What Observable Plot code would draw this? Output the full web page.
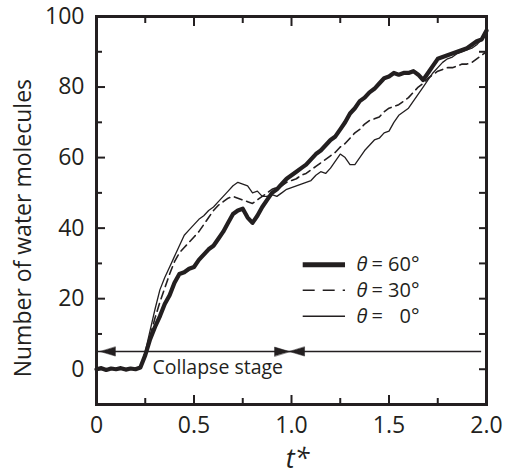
<!DOCTYPE html>
<html><head><meta charset="utf-8">
<script src="https://cdn.jsdelivr.net/npm/d3@7"></script>
<script src="https://cdn.jsdelivr.net/npm/@observablehq/plot@0.6"></script>
<style>body{margin:0;background:#fff}</style>
</head><body><div id="chart"></div>
<script>
// reduced time t*
const tStar = [0,0.025,0.05,0.075,0.1,0.125,0.15,0.175,0.2,0.225,0.25,0.275,0.3,0.325,0.35,0.375,0.4,0.425,0.45,0.475,
0.5,0.525,0.55,0.575,0.6,0.625,0.65,0.675,0.7,0.725,0.75,0.775,0.8,0.825,0.85,0.875,0.9,0.925,0.95,0.975,
1.0,1.025,1.05,1.075,1.1,1.125,1.15,1.175,1.2,1.225,1.25,1.275,1.3,1.325,1.35,1.375,1.4,1.425,1.45,1.475,
1.5,1.525,1.55,1.575,1.6,1.625,1.65,1.675,1.7,1.725,1.75,1.775,1.8,1.825,1.85,1.875,1.9,1.925,1.95,1.975,2.0];
// theta = 60 deg (thick)
const water60 = [0,0.3,-0.2,0.2,0,0.3,-0.1,0.2,0,0.5,4,8.5,12,15,18.5,21,24.5,27,27.5,28.5,
29,31,32.5,34,35,37,39,41.5,44,45,45.5,43,41.5,43.5,46,48,50,51,52.5,54,
55,56,57,58,59.5,61,62,63.5,65,66,68,70,72.5,74,76,77,78.5,79.5,81,82.5,
83,84,83.5,84,84,84.5,83.5,82,84,86,88,88.5,89,89.5,90,90.5,91,92,93,93.5,96];
// theta = 30 deg (dashed)
const water30 = [0,0.2,0,0.2,-0.1,0.2,0,0.2,0,0.3,4,9.5,14.5,19,23,27,30.5,33,34.5,36,
37.5,39,41,43,45,46.5,47.5,48.5,49,48.5,48,47.5,47,48,49,50,51,51.5,52,53,
53.5,54,55,55.5,56.5,57.5,58.5,59.5,60.5,61.5,63,64,65.5,67,68,69.5,70.5,71,71.5,73,
74,74.5,75,76,77,78.5,80,81,82.5,83.5,84.5,85,85.5,85.5,86,86.5,86.5,87,88,89,90];
// theta = 0 deg (thin)
const water0 = [0,0.2,0,0.2,0,0.2,0,0.2,0,0.5,5,11,17,22.5,26,29,32,35,38,39.5,
41,42.5,43.5,45,46,47.5,49,50.5,52,53,52.5,52,50,50.5,49,49,49.5,49,50,51,
51.5,52,52.5,53,53.5,55,56,55.5,57,59,61,60,58,58,60,62,63.5,65,65.5,67,
67.5,70,72,73,74,76,78,80,82,84,85.5,87,88,88.5,89.5,90,90.5,91,92,93.5,95];

const xMajor = [0, 0.5, 1.0, 1.5, 2.0];
const xMinor = [0.25, 0.75, 1.25, 1.75];
const yMajor = [0, 20, 40, 60, 80, 100];
const yMinor = [10, 30, 50, 70, 90];
const yRight = [0, 10, 20, 30, 40, 50, 60, 70, 80, 90];
const legendValues = ["60", "30", "\u20070"];
const collapseBounds = [0.02, 0.99];
const collapseLevel = 5;

const ink = "#231f20";
const font = "'Open Sans', 'DejaVu Sans', sans-serif";
const rows = (arr) => tStar.map((t, i) => ({t, n: arr[i]}));
const head = {draw(ctx, l, r) { ctx.moveTo(0, -l); ctx.lineTo(-r, 0); ctx.lineTo(r, 0); ctx.closePath(); }};
const heads = [
  {x: collapseBounds[0], y: collapseLevel, rot: -90},
  {x: collapseBounds[1], y: collapseLevel, rot: 90},
  {x: collapseBounds[1], y: collapseLevel, rot: -90}
];
const tickOpts = {fill: "none", label: null, stroke: ink, strokeWidth: 2};
const fmtX = d => d === 0 ? "0" : d.toFixed(1);

const legendY = [29.6, 22.4, 15.0];

const chart = Plot.plot({
  width: 512, height: 474,
  marginLeft: 96, marginRight: 26, marginTop: 16, marginBottom: 70,
  x: {domain: [0, 2]},
  y: {domain: [-10, 100]},
  style: {fontFamily: font, color: ink, background: "#fff"},
  marks: [
    Plot.line(rows(water0), {x: "t", y: "n", stroke: ink, strokeWidth: 1.3}),
    Plot.line(rows(water30), {x: "t", y: "n", stroke: ink, strokeWidth: 1.6, strokeDasharray: "8,5"}),
    Plot.line(rows(water60), {x: "t", y: "n", stroke: ink, strokeWidth: 4.2, strokeLinejoin: "round"}),
    Plot.ruleY([collapseLevel], {x1: 0, x2: 1.975, stroke: ink, strokeWidth: 1.5}),
    Plot.vector(heads, {x: "x", y: "y", rotate: "rot", length: 15, r: 4.5, anchor: "end", shape: head, fill: ink, stroke: ink, strokeWidth: 0.5}),
    Plot.text(["Collapse stage"], {x: 0.287, y: 0.3, text: d => d, textAnchor: "start", fontSize: 19.5, fill: ink}),
    // legend
    Plot.ruleY([legendY[0]], {x1: 1.06, x2: 1.277, stroke: ink, strokeWidth: 5}),
    Plot.ruleY([legendY[1]], {x1: 1.06, x2: 1.277, stroke: ink, strokeWidth: 1.6, strokeDasharray: "12,8"}),
    Plot.ruleY([legendY[2]], {x1: 1.06, x2: 1.277, stroke: ink, strokeWidth: 1.6}),
    Plot.text(legendValues, {x: 1.333, y: (d, i) => legendY[i], text: () => "\u03b8", textAnchor: "start", fontSize: 20, fontStyle: "italic", fill: ink}),
    Plot.text(legendValues, {x: 1.333, y: (d, i) => legendY[i], text: d => "= " + d + "\u00b0", dx: 15, textAnchor: "start", fontSize: 20, fill: ink}),
    // frame and ticks
    Plot.frame({stroke: ink, strokeWidth: 3}),
    Plot.axisX(xMajor, {anchor: "bottom", tickSize: 9, dy: -9, ...tickOpts}),
    Plot.axisX(xMinor, {anchor: "bottom", tickSize: 6, dy: -6, ...tickOpts}),
    Plot.axisX(xMajor, {anchor: "top", tickSize: 9, dy: 9, ...tickOpts}),
    Plot.axisX(xMinor, {anchor: "top", tickSize: 6, dy: 6, ...tickOpts}),
    Plot.axisY(yMajor, {anchor: "left", tickSize: 9, dx: 9, ...tickOpts}),
    Plot.axisY(yMinor, {anchor: "left", tickSize: 6, dx: 6, ...tickOpts}),
    Plot.axisY(yRight, {anchor: "right", tickSize: 8, dx: -8, ...tickOpts}),
    // tick labels
    Plot.axisX(xMajor, {anchor: "bottom", tickSize: 0, tickPadding: 12, fontSize: 23, tickFormat: fmtX, label: null, fill: ink}),
    Plot.axisY(yMajor, {anchor: "left", tickSize: 0, tickPadding: 12, fontSize: 23, label: null, fill: ink}),
    // axis titles
    Plot.text(["Number of water molecules"], {x: -0.375, y: 40, rotate: -90, fontSize: 23, fill: ink}),
    Plot.text(["t*"], {frameAnchor: "bottom", dx: 6, dy: 63, fontSize: 27, fontStyle: "italic", fill: ink})
  ]
});
document.getElementById("chart").appendChild(chart);
</script>
</body></html>
